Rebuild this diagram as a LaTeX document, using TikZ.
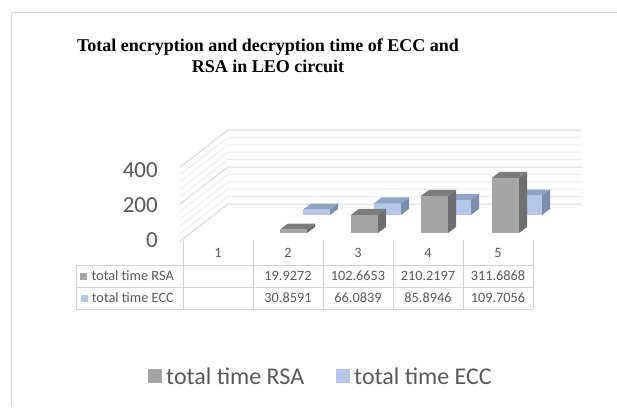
\documentclass[tikz,border=0pt]{standalone}
\usepackage{fontspec}
\setmainfont{Liberation Serif}
\newfontfamily\carl{Carlito}
\definecolor{framegray}{HTML}{D9D9D9}
\definecolor{majorgrid}{HTML}{D9D9D9}
\definecolor{minorgrid}{HTML}{EDEDED}
\definecolor{tablegray}{HTML}{D0D0D0}
\definecolor{labelgray}{HTML}{595959}
\definecolor{rsafront}{HTML}{A5A5A5}
\definecolor{rsaside}{HTML}{6F6F6F}
\definecolor{rsatop}{HTML}{7C7C7C}
\definecolor{eccfront}{HTML}{B4C7E7}
\definecolor{eccside}{HTML}{7A8FAD}
\definecolor{ecctop}{HTML}{8FA3C4}
\tikzset{
  axislabel/.style={font=\carl\fontsize{23}{26}\selectfont, text=labelgray, inner sep=0pt},
  cell/.style={font=\carl\fontsize{14.3}{16}\selectfont, text=labelgray, inner sep=0pt},
  legendtext/.style={font=\carl\fontsize{24}{26}\selectfont, text=labelgray, inner sep=0pt, anchor=west},
  titletext/.style={font=\bfseries\fontsize{18}{20.5}\selectfont, align=center, inner sep=0pt},
  tableline/.style={draw=tablegray, line width=0.8pt},
}
% bar: x of front-left edge, y of bottom, height, colour prefix
\newcommand{\drawbar}[4]{%
  \fill[#4front] (#1,#2) rectangle ({#1+27},{#2-#3});
  \fill[#4side] ({#1+27},#2) -- ({#1+35},{#2-6}) -- ({#1+35},{#2-6-#3}) -- ({#1+27},{#2-#3}) -- cycle;
  \fill[#4top] (#1,{#2-#3}) -- ({#1+27},{#2-#3}) -- ({#1+35},{#2-#3-6}) -- ({#1+8},{#2-#3-6}) -- cycle;
}
\begin{document}
\begin{tikzpicture}[x=1pt,y=-1pt]
\useasboundingbox (0,0) rectangle (617,407);
\fill[white] (0,0) rectangle (617,407);
% chart frame
\draw[framegray, line width=1pt] (617,12) -- (11,12) -- (11,407);

% title
\node[titletext] (title) at (268,56) {Total encryption and decryption time of ECC and\\RSA in LEO circuit};

% walls: back wall and left side wall gridlines (minor every 40, major every 200)
\foreach \k in {0,...,10} {
  \pgfmathsetmacro{\yy}{204-7.4*\k}
  \ifnum\numexpr\k-5*(\k/5)\relax=0
    \draw[majorgrid, line width=1pt] (180,{\yy+37}) -- (228,\yy) -- (582,\yy);
  \else
    \draw[minorgrid, line width=1pt] (180,{\yy+37}) -- (228,\yy) -- (582,\yy);
  \fi
}

% value axis labels
\node[axislabel, anchor=east] (v400) at (158,170) {400};
\node[axislabel, anchor=east] (v200) at (158,205) {200};
\node[axislabel, anchor=east] (v0) at (158,240) {0};

% back row: total time ECC
\drawbar{303}{215}{5.5}{ecc}
\drawbar{374}{215}{11.7}{ecc}
\drawbar{444}{215}{15.2}{ecc}
\drawbar{515}{215}{19.4}{ecc}
% front row: total time RSA
\drawbar{280}{233}{3.5}{rsa}
\drawbar{351}{233}{18.2}{rsa}
\drawbar{421}{233}{37.2}{rsa}
\drawbar{492}{233}{55.2}{rsa}

% data table grid
\foreach \xx in {183,253,323,393,463,533}
  \draw[tableline] (\xx,240) -- (\xx,309);
\draw[tableline] (76,265) -- (533,265);
\draw[tableline] (76,287) -- (533,287);
\draw[tableline] (76,309) -- (533,309);
\draw[tableline] (76,265) -- (76,309);

% category headers
\node[cell] (c1) at (218,253) {1};
\node[cell] (c2) at (288,253) {2};
\node[cell] (c3) at (358,253) {3};
\node[cell] (c4) at (428,253) {4};
\node[cell] (c5) at (498,253) {5};

% row labels with legend keys
\node[cell, anchor=east] (rowrsa) at (174,276) {total time RSA};
\fill[rsafront] ([xshift=-11pt,yshift=-3.5pt]rowrsa.west) rectangle ([xshift=-4pt,yshift=3.5pt]rowrsa.west);
\node[cell, anchor=east] (rowecc) at (174,298) {total time ECC};
\fill[eccfront] ([xshift=-11pt,yshift=-3.5pt]rowecc.west) rectangle ([xshift=-4pt,yshift=3.5pt]rowecc.west);

% values
\node[cell] (r2) at (288,276) {19.9272};
\node[cell] (r3) at (358,276) {102.6653};
\node[cell] (r4) at (428,276) {210.2197};
\node[cell] (r5) at (498,276) {311.6868};
\node[cell] (e2) at (288,298) {30.8591};
\node[cell] (e3) at (358,298) {66.0839};
\node[cell] (e4) at (428,298) {85.8946};
\node[cell] (e5) at (498,298) {109.7056};

% legend
\fill[rsafront] (148,369) rectangle (162,383);
\node[legendtext] (legrsa) at (166,376) {total time RSA};
\fill[eccfront] (336,369) rectangle (350,383);
\node[legendtext] (legecc) at (354,376) {total time ECC};
\end{tikzpicture}
\end{document}
